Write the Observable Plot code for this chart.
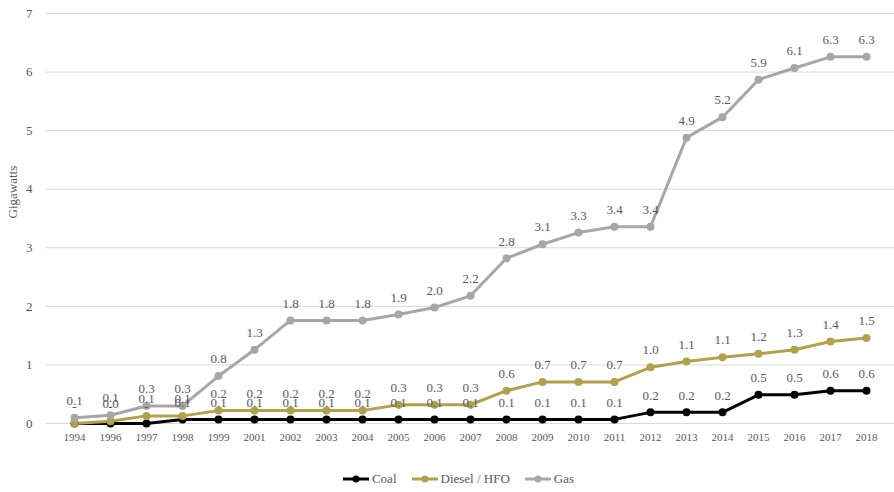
<!DOCTYPE html>
<html><head><meta charset="utf-8">
<script src="https://cdn.jsdelivr.net/npm/d3@7"></script>
<script src="https://cdn.jsdelivr.net/npm/@observablehq/plot@0.6"></script>
<style>
body{margin:0;background:#fff;font-family:"Liberation Serif",serif;}
#chart svg, #chart svg text{font-family:"Liberation Serif",serif !important;}
#legend{display:flex;justify-content:center;align-items:center;height:18px;margin-top:12px;padding-left:22px;font-size:13px;color:#595959;font-family:"Liberation Serif",serif;}
#legend .item{display:flex;align-items:center;margin:0 7px;}
#legend svg{margin-right:2px;}
</style>
</head><body><div id="chart"></div><div id="legend"></div>
<script>
const years = ["1994","1996","1997","1998","1999","2001","2002","2003","2004","2005","2006","2007","2008","2009","2010","2011","2012","2013","2014","2015","2016","2017","2018"];
const coal   = [0,0,0,0.07,0.07,0.07,0.07,0.07,0.07,0.07,0.07,0.07,0.07,0.07,0.07,0.07,0.19,0.19,0.19,0.49,0.49,0.56,0.56];
const diesel = [0,0.04,0.13,0.13,0.22,0.22,0.22,0.22,0.22,0.32,0.32,0.32,0.56,0.71,0.71,0.71,0.96,1.06,1.13,1.19,1.26,1.40,1.46];
const gas    = [0.10,0.14,0.30,0.30,0.81,1.26,1.76,1.76,1.76,1.86,1.98,2.18,2.82,3.06,3.26,3.36,3.36,4.88,5.23,5.87,6.07,6.26,6.26];
const seriesNames = ["Coal","Diesel / HFO","Gas"];
const seriesColors = ["#000000","#b2a14c","#a6a6a6"];
const yTicks = [0,1,2,3,4,5,6,7];

const seriesValues = [coal, diesel, gas];
const data = [];
seriesNames.forEach((s, i) => years.forEach((y, j) => data.push({series: s, year: y, value: seriesValues[i][j]})));
const fmt = v => v === 0 ? "-" : d3.format(".1f")(v);
const FF = "Liberation Serif";

const chart = Plot.plot({
  width: 894, height: 458,
  marginLeft: 46, marginRight: 0, marginTop: 13, marginBottom: 35,
  style: {fontFamily: "'Liberation Serif', serif", background: "#fff"},
  x: {type: "point", domain: years, padding: 0.5},
  y: {domain: [0, 7]},
  color: {domain: seriesNames, range: seriesColors},
  marks: [
    Plot.gridY(yTicks, {stroke: "#d9d9d9", strokeOpacity: 1, strokeWidth: 1}),
    Plot.line(data, {x: "year", y: "value", z: "series", stroke: "series", strokeWidth: 3}),
    Plot.dot(data, {x: "year", y: "value", fill: "series", r: 4}),
    Plot.text(data, {x: "year", y: "value", text: d => fmt(d.value), dy: -17, fill: "#595959", fontSize: 13, fontFamily: FF}),
    Plot.axisX({tickSize: 0, tickPadding: 10, fontSize: 11, fill: "#595959", label: null, fontFamily: FF}),
    Plot.axisY(yTicks, {tickSize: 0, tickPadding: 14, fontSize: 13, fill: "#595959", label: null, tickFormat: "d", fontFamily: FF}),
    Plot.text(["Gigawatts"], {frameAnchor: "left", rotate: -90, dx: -34, fontSize: 13, fill: "#595959", fontFamily: FF})
  ]
});
document.getElementById("chart").appendChild(chart);

const legend = document.getElementById("legend");
seriesNames.forEach((s, i) => {
  const item = document.createElement("div");
  item.className = "item";
  item.innerHTML = `<svg width="28" height="10"><line x1="1" y1="5" x2="27" y2="5" stroke="${seriesColors[i]}" stroke-width="3"/><circle cx="14" cy="5" r="3.5" fill="${seriesColors[i]}"/></svg><span>${s}</span>`;
  legend.appendChild(item);
});
</script>
</body></html>
